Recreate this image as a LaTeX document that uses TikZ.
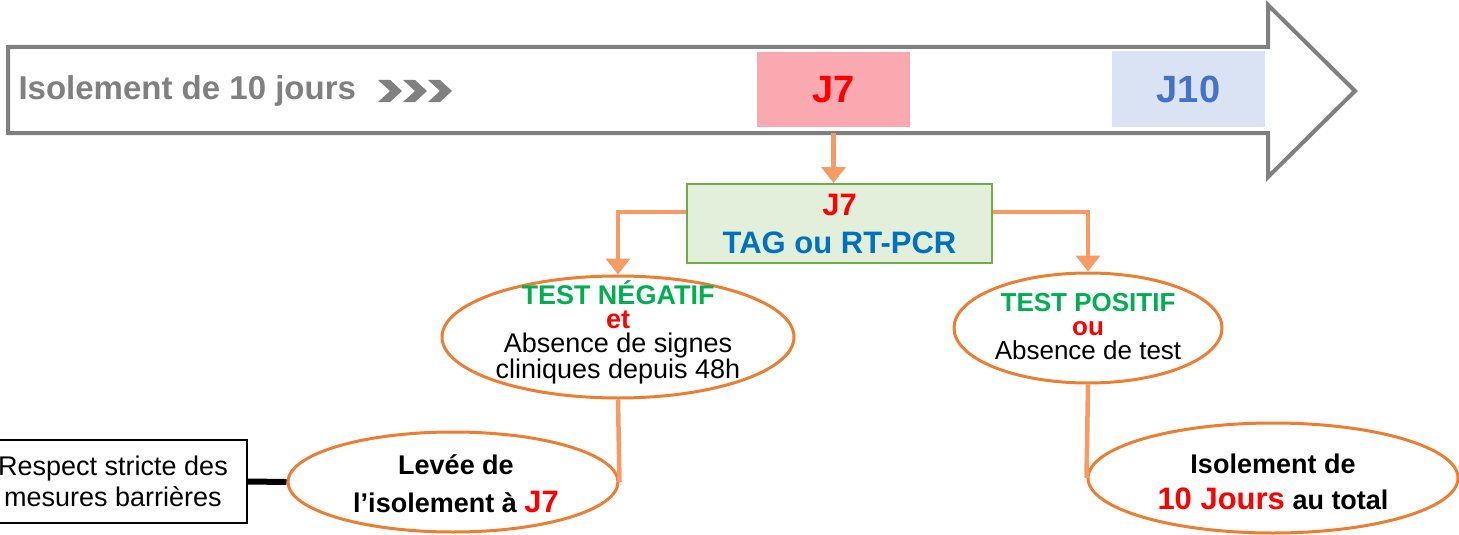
\documentclass[tikz,border=0pt]{standalone}
\usepackage{fontspec}
\setmainfont{Liberation Sans}
\usetikzlibrary{arrows.meta,shapes.geometric}
\definecolor{arrowgray}{HTML}{808080}
\definecolor{pinkfill}{HTML}{FAA9B1}
\definecolor{bluefill}{HTML}{DAE3F3}
\definecolor{dayblue}{HTML}{4472C4}
\definecolor{testfill}{HTML}{E2EFDA}
\definecolor{testgreen}{HTML}{70AD47}
\definecolor{tagblue}{HTML}{0070C0}
\definecolor{okgreen}{HTML}{00B050}
\definecolor{ovalorange}{HTML}{ED7D31}
\definecolor{linkorange}{RGB}{247,155,100}
\newcommand\fs[2]{\fontsize{#1}{#2}\selectfont}

\begin{document}
\begin{tikzpicture}[x=1pt,y=-1pt,
    daybox/.style={minimum width=153pt,minimum height=75pt,inner sep=0pt,font=\bfseries\fs{38}{38}},
    oval/.style={ellipse,draw=ovalorange,line width=3pt,inner sep=0pt},
    link/.style={draw=linkorange,line width=4.5pt},
    linkarrow/.style={link,-{Triangle[width=24pt,length=16pt]}}]
  \useasboundingbox (0,0) rectangle (1459,535);
  \draw[arrowgray,line width=4pt,fill=white] (8,47) -- (1268,47) -- (1268,5) -- (1355,91) -- (1268,177) -- (1268,133) -- (8,133) -- cycle;
  \node[anchor=west,text=arrowgray,font=\bfseries\fs{33}{33}] (title) at (15,91) {Isolement de 10 jours};
  \foreach \cx in {378,403,428}
    \fill[arrowgray] (\cx,80) -- (\cx+12,80) -- (\cx+24,91) -- (\cx+12,102) -- (\cx,102) -- (\cx+12,91) -- cycle;
  \node[daybox,fill=pinkfill,text=red] (j7) at (833.5,89.5) {J7};
  \node[daybox,fill=bluefill,text=dayblue] (j10) at (1188.5,89) {J10};

  \node[draw=testgreen,line width=2pt,fill=testfill,minimum width=305pt,minimum height=79pt,text depth=0pt,align=center,font=\bfseries\fs{31}{38}] (test) at (839.5,223.5) {\textcolor{red}{J7}\\\textcolor{tagblue}{TAG ou RT-PCR}};

  \node[oval,minimum width=352pt,minimum height=122pt] (neg) at (618,337) {};
  \node[align=center,font=\fs{27}{24}] (negtext) at (618,332) {\textcolor{okgreen}{\bfseries TEST NÉGATIF}\\\textcolor{red}{\bfseries et}\\Absence de signes\\cliniques depuis 48h};
  \node[oval,minimum width=268pt,minimum height=110pt] (pos) at (1088,328) {};
  \node[align=center,font=\fs{26}{24}] (postext) at (1088,327) {\textcolor{okgreen}{\bfseries TEST POSITIF}\\\textcolor{red}{\bfseries ou}\\Absence de test};

  \node[oval,minimum width=330pt,minimum height=100pt] (leve) at (453,482) {};
  \node[align=center,font=\bfseries\fs{27}{38}] (levetext) at (456,484) {Levée de\\l’isolement à \textcolor{red}{\fs{31}{38}J7}};
  \node[oval,minimum width=370pt,minimum height=110pt] (iso) at (1273,478) {};
  \node[align=center,font=\bfseries\fs{27}{36}] (isotext) at (1273,482) {Isolement de\\\textcolor{red}{\fs{31}{36}10 Jours} au total};
  \node[draw,line width=1.5pt,minimum width=268pt,minimum height=83pt,align=center,font=\fs{27}{31}] (resp) at (113,481.5) {Respect stricte des\\mesures barrières};

  \draw[linkarrow,shorten <=6pt] (j7.south) -- (j7.south |- test.north);
  \draw[linkarrow] ([yshift=11.5pt]test.west) -| (neg.north);
  \draw[linkarrow] ([yshift=11.5pt]test.east) -| (pos.north);
  \draw[link] (neg.south) -- (leve.east);
  \draw[link] (pos.south) -- (iso.west);
  \draw[line width=6pt] (resp.east) -- (leve.west);
\end{tikzpicture}
\end{document}
